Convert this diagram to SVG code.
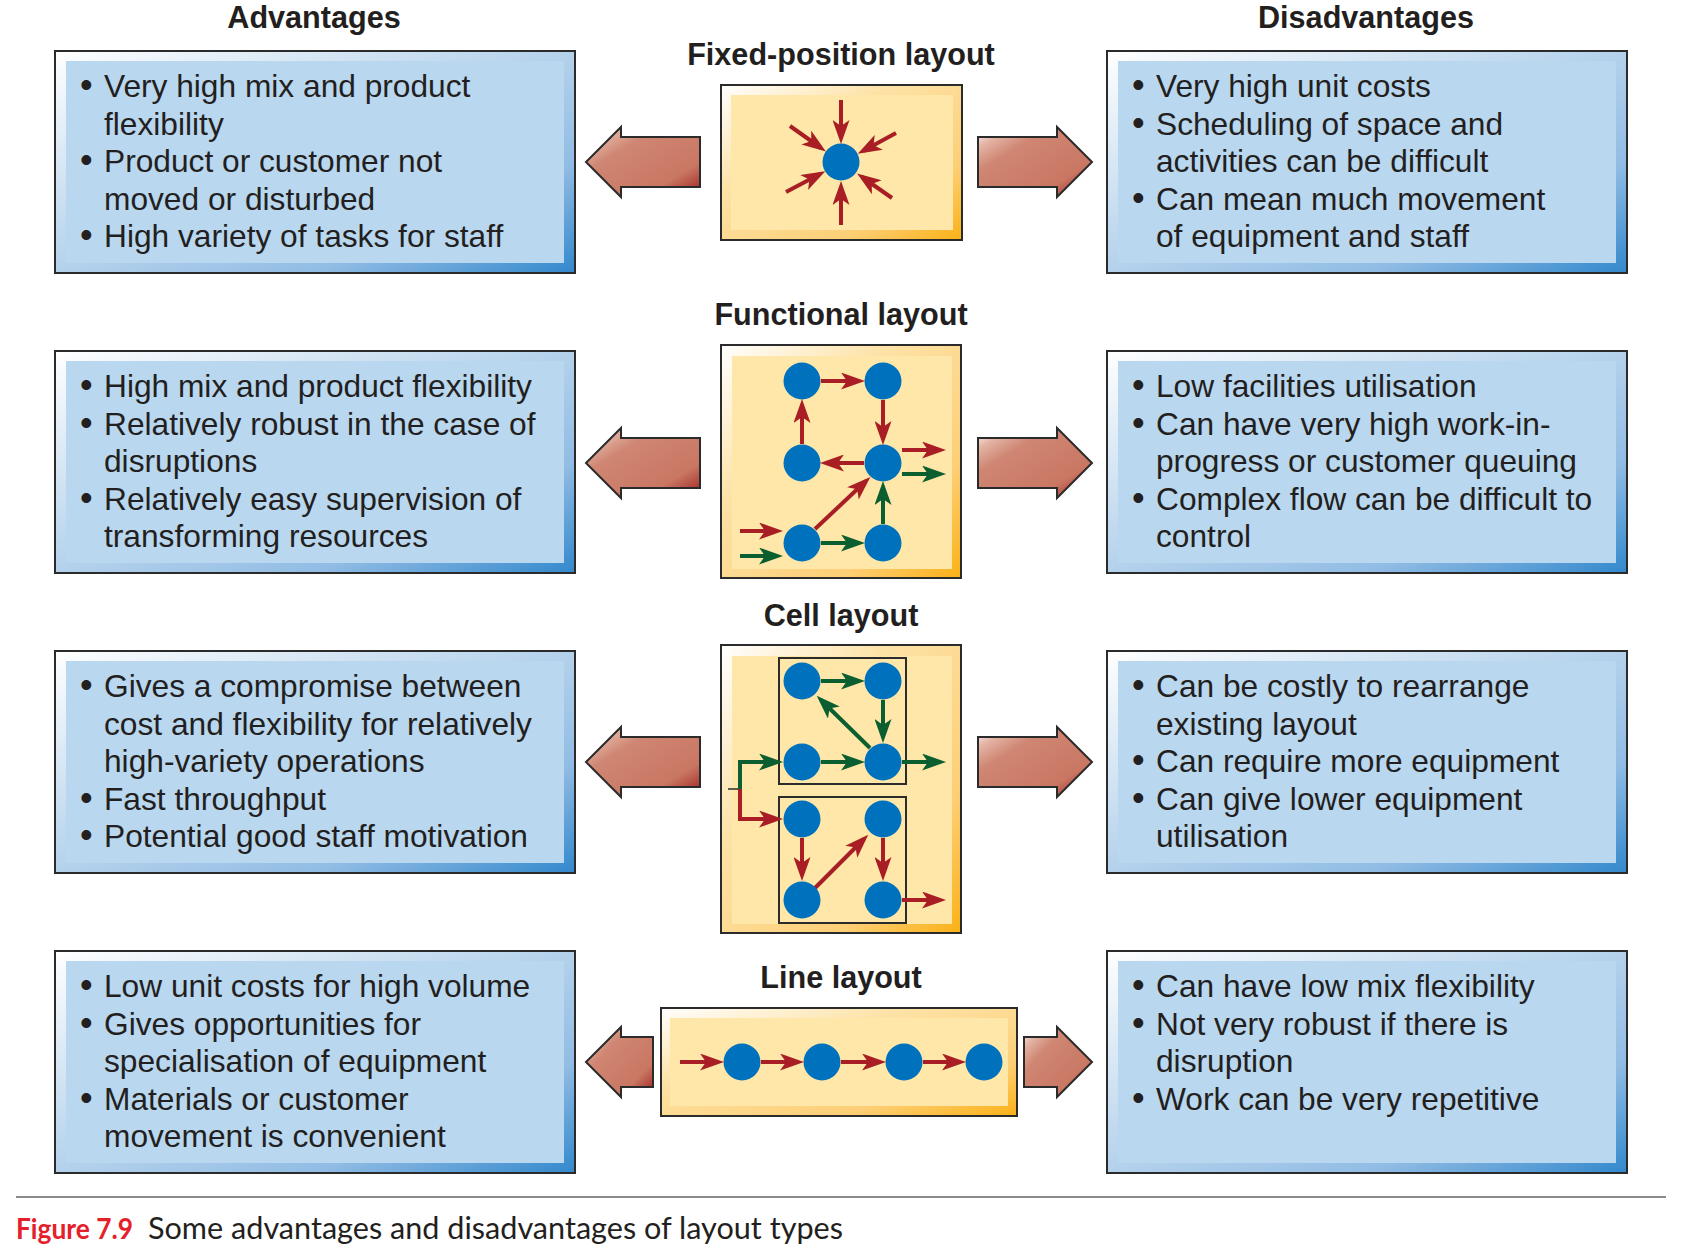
<svg xmlns="http://www.w3.org/2000/svg" width="1699" height="1259" viewBox="0 0 1699 1259">
<defs>
<linearGradient id="gBlue" x1="0" y1="0" x2="1" y2="1">
<stop offset="0" stop-color="#ffffff"/><stop offset="0.4" stop-color="#c2daef"/><stop offset="0.75" stop-color="#91bce4"/><stop offset="1" stop-color="#3288cc"/>
</linearGradient>
<linearGradient id="gYellow" x1="0" y1="0" x2="1" y2="1">
<stop offset="0" stop-color="#ffffff"/><stop offset="0.35" stop-color="#fde2a6"/><stop offset="0.75" stop-color="#fdcf76"/><stop offset="1" stop-color="#fbb116"/>
</linearGradient>
<linearGradient id="gArrow" x1="0" y1="0" x2="1" y2="1">
<stop offset="0" stop-color="#ffffff"/><stop offset="0.15" stop-color="#e3b3a4"/><stop offset="0.32" stop-color="#cf8672"/><stop offset="0.75" stop-color="#c97763"/><stop offset="1" stop-color="#9e1c1e"/>
</linearGradient>
<marker id="mr" markerUnits="userSpaceOnUse" viewBox="0 0 24 17" markerWidth="24" markerHeight="17" refX="18" refY="8.5" orient="auto">
<path d="M0,0 L24,8.5 L0,17 L6,8.5 Z" fill="#a81e24"/>
</marker>
<marker id="mg" markerUnits="userSpaceOnUse" viewBox="0 0 24 17" markerWidth="24" markerHeight="17" refX="18" refY="8.5" orient="auto">
<path d="M0,0 L24,8.5 L0,17 L6,8.5 Z" fill="#0b5e2f"/>
</marker>
</defs>
<style>
.sideOuter{fill:url(#gBlue);stroke:#2b2b2b;stroke-width:2}
.sideInner{fill:#b9d7ef}
.panOuter{fill:url(#gYellow);stroke:#2b2b2b;stroke-width:2}
.panInner{fill:#fee7a8}
.sub{fill:none;stroke:#2b2b2b;stroke-width:2}
.txt{font-family:"Liberation Sans",Arial,sans-serif;font-size:31.7px;fill:#231f20}
.b{font-size:36px}
.hdr{font-family:"Liberation Sans",Arial,sans-serif;font-size:30.6px;font-weight:bold;fill:#231f20;text-anchor:middle}
.dot{fill:#0071bc}
.r{stroke:#a81e24;stroke-width:4;fill:none;marker-end:url(#mr)}
.g{stroke:#0b5e2f;stroke-width:4;fill:none;marker-end:url(#mg)}
.blk{fill:url(#gArrow);stroke:#2b2b2b;stroke-width:2;stroke-linejoin:miter}
</style>
<rect width="1699" height="1259" fill="#ffffff"/>

<text class="hdr" x="314" y="28">Advantages</text>
<text class="hdr" x="1366" y="28">Disadvantages</text>

<!-- Left boxes -->
<g id="adv-fixed">
<rect class="sideOuter" x="55" y="51" width="520" height="222"/>
<rect class="sideInner" x="66" y="61" width="498" height="202"/>
<text class="txt" x="80" y="97"><tspan class="b">•</tspan><tspan x="104">Very high mix and product</tspan></text>
<text class="txt" x="104" y="134.6">flexibility</text>
<text class="txt" x="80" y="172.2"><tspan class="b">•</tspan><tspan x="104">Product or customer not</tspan></text>
<text class="txt" x="104" y="209.8">moved or disturbed</text>
<text class="txt" x="80" y="247.4"><tspan class="b">•</tspan><tspan x="104">High variety of tasks for staff</tspan></text>
</g>
<g id="adv-functional">
<rect class="sideOuter" x="55" y="351" width="520" height="222"/>
<rect class="sideInner" x="66" y="361" width="498" height="202"/>
<text class="txt" x="80" y="397"><tspan class="b">•</tspan><tspan x="104">High mix and product flexibility</tspan></text>
<text class="txt" x="80" y="434.6"><tspan class="b">•</tspan><tspan x="104">Relatively robust in the case of</tspan></text>
<text class="txt" x="104" y="472.2">disruptions</text>
<text class="txt" x="80" y="509.8"><tspan class="b">•</tspan><tspan x="104">Relatively easy supervision of</tspan></text>
<text class="txt" x="104" y="547.4">transforming resources</text>
</g>
<g id="adv-cell">
<rect class="sideOuter" x="55" y="651" width="520" height="222"/>
<rect class="sideInner" x="66" y="661" width="498" height="202"/>
<text class="txt" x="80" y="697"><tspan class="b">•</tspan><tspan x="104">Gives a compromise between</tspan></text>
<text class="txt" x="104" y="734.6">cost and flexibility for relatively</text>
<text class="txt" x="104" y="772.2">high-variety operations</text>
<text class="txt" x="80" y="809.8"><tspan class="b">•</tspan><tspan x="104">Fast throughput</tspan></text>
<text class="txt" x="80" y="847.4"><tspan class="b">•</tspan><tspan x="104">Potential good staff motivation</tspan></text>
</g>
<g id="adv-line">
<rect class="sideOuter" x="55" y="951" width="520" height="222"/>
<rect class="sideInner" x="66" y="961" width="498" height="202"/>
<text class="txt" x="80" y="997"><tspan class="b">•</tspan><tspan x="104">Low unit costs for high volume</tspan></text>
<text class="txt" x="80" y="1034.6"><tspan class="b">•</tspan><tspan x="104">Gives opportunities for</tspan></text>
<text class="txt" x="104" y="1072.2">specialisation of equipment</text>
<text class="txt" x="80" y="1109.8"><tspan class="b">•</tspan><tspan x="104">Materials or customer</tspan></text>
<text class="txt" x="104" y="1147.4">movement is convenient</text>
</g>

<!-- Right boxes -->
<g id="dis-fixed">
<rect class="sideOuter" x="1107" y="51" width="520" height="222"/>
<rect class="sideInner" x="1118" y="61" width="498" height="202"/>
<text class="txt" x="1132" y="97"><tspan class="b">•</tspan><tspan x="1156">Very high unit costs</tspan></text>
<text class="txt" x="1132" y="134.6"><tspan class="b">•</tspan><tspan x="1156">Scheduling of space and</tspan></text>
<text class="txt" x="1156" y="172.2">activities can be difficult</text>
<text class="txt" x="1132" y="209.8"><tspan class="b">•</tspan><tspan x="1156">Can mean much movement</tspan></text>
<text class="txt" x="1156" y="247.4">of equipment and staff</text>
</g>
<g id="dis-functional">
<rect class="sideOuter" x="1107" y="351" width="520" height="222"/>
<rect class="sideInner" x="1118" y="361" width="498" height="202"/>
<text class="txt" x="1132" y="397"><tspan class="b">•</tspan><tspan x="1156">Low facilities utilisation</tspan></text>
<text class="txt" x="1132" y="434.6"><tspan class="b">•</tspan><tspan x="1156">Can have very high work-in-</tspan></text>
<text class="txt" x="1156" y="472.2">progress or customer queuing</text>
<text class="txt" x="1132" y="509.8"><tspan class="b">•</tspan><tspan x="1156">Complex flow can be difficult to</tspan></text>
<text class="txt" x="1156" y="547.4">control</text>
</g>
<g id="dis-cell">
<rect class="sideOuter" x="1107" y="651" width="520" height="222"/>
<rect class="sideInner" x="1118" y="661" width="498" height="202"/>
<text class="txt" x="1132" y="697"><tspan class="b">•</tspan><tspan x="1156">Can be costly to rearrange</tspan></text>
<text class="txt" x="1156" y="734.6">existing layout</text>
<text class="txt" x="1132" y="772.2"><tspan class="b">•</tspan><tspan x="1156">Can require more equipment</tspan></text>
<text class="txt" x="1132" y="809.8"><tspan class="b">•</tspan><tspan x="1156">Can give lower equipment</tspan></text>
<text class="txt" x="1156" y="847.4">utilisation</text>
</g>
<g id="dis-line">
<rect class="sideOuter" x="1107" y="951" width="520" height="222"/>
<rect class="sideInner" x="1118" y="961" width="498" height="202"/>
<text class="txt" x="1132" y="997"><tspan class="b">•</tspan><tspan x="1156">Can have low mix flexibility</tspan></text>
<text class="txt" x="1132" y="1034.6"><tspan class="b">•</tspan><tspan x="1156">Not very robust if there is</tspan></text>
<text class="txt" x="1156" y="1072.2">disruption</text>
<text class="txt" x="1132" y="1109.8"><tspan class="b">•</tspan><tspan x="1156">Work can be very repetitive</tspan></text>
</g>

<!-- Center panels -->
<g id="fixed-position">
<text class="hdr" x="841" y="65">Fixed-position layout</text>
<rect class="panOuter" x="721" y="85" width="241" height="155"/>
<rect class="panInner" x="731" y="95" width="222" height="135"/>
<circle class="dot" cx="841" cy="162" r="18.5"/>
<line class="r" x1="841" y1="100" x2="841" y2="138"/>
<line class="r" x1="841" y1="225" x2="841" y2="187"/>
<line class="r" x1="790" y1="126" x2="821" y2="148"/>
<line class="r" x1="896" y1="133" x2="863" y2="151"/>
<line class="r" x1="786" y1="192" x2="820" y2="174"/>
<line class="r" x1="892" y1="198" x2="862" y2="177"/>
</g>

<g id="functional">
<text class="hdr" x="841" y="325">Functional layout</text>
<rect class="panOuter" x="721" y="345" width="240" height="233"/>
<rect class="panInner" x="732" y="356" width="220" height="213"/>
<line class="r" x1="821" y1="381" x2="859" y2="381"/>
<line class="r" x1="883" y1="400" x2="883" y2="439"/>
<line class="r" x1="864" y1="463" x2="826" y2="463"/>
<line class="r" x1="802" y1="444" x2="802" y2="405"/>
<line class="r" x1="815" y1="529" x2="866" y2="481"/>
<line class="g" x1="821" y1="543" x2="859" y2="543"/>
<line class="g" x1="883" y1="524" x2="883" y2="487"/>
<line class="r" x1="740" y1="531" x2="777" y2="531"/>
<line class="g" x1="740" y1="556" x2="777" y2="556"/>
<line class="r" x1="902" y1="450" x2="940" y2="450"/>
<line class="g" x1="902" y1="474" x2="940" y2="474"/>
<circle class="dot" cx="802" cy="381" r="18.5"/>
<circle class="dot" cx="883" cy="381" r="18.5"/>
<circle class="dot" cx="802" cy="463" r="18.5"/>
<circle class="dot" cx="883" cy="463" r="18.5"/>
<circle class="dot" cx="802" cy="543" r="18.5"/>
<circle class="dot" cx="883" cy="543" r="18.5"/>
</g>

<g id="cell">
<text class="hdr" x="841" y="626">Cell layout</text>
<rect class="panOuter" x="721" y="645" width="240" height="288"/>
<rect class="panInner" x="732" y="656" width="220" height="268"/>
<rect class="sub" x="779" y="658" width="127" height="126"/>
<rect class="sub" x="779" y="797" width="127" height="126"/>
<line x1="728" y1="789" x2="741" y2="789" stroke="#2b2b2b" stroke-width="1.5"/>
<polyline class="g" points="740,789 740,762 777,762"/>
<polyline class="r" points="740,789 740,819 777,819"/>
<line class="g" x1="821" y1="681" x2="859" y2="681"/>
<line class="g" x1="883" y1="700" x2="883" y2="737"/>
<line class="g" x1="870" y1="748" x2="821" y2="700"/>
<line class="g" x1="821" y1="762" x2="859" y2="762"/>
<line class="g" x1="902" y1="762" x2="940" y2="762"/>
<line class="r" x1="802" y1="838" x2="802" y2="875"/>
<line class="r" x1="815" y1="888" x2="864" y2="839"/>
<line class="r" x1="883" y1="838" x2="883" y2="875"/>
<line class="r" x1="902" y1="900" x2="940" y2="900"/>
<circle class="dot" cx="802" cy="681" r="18.5"/>
<circle class="dot" cx="883" cy="681" r="18.5"/>
<circle class="dot" cx="802" cy="762" r="18.5"/>
<circle class="dot" cx="883" cy="762" r="18.5"/>
<circle class="dot" cx="802" cy="819" r="18.5"/>
<circle class="dot" cx="883" cy="819" r="18.5"/>
<circle class="dot" cx="802" cy="900" r="18.5"/>
<circle class="dot" cx="883" cy="900" r="18.5"/>
</g>

<g id="line">
<text class="hdr" x="841" y="988">Line layout</text>
<rect class="panOuter" x="661" y="1008" width="356" height="108"/>
<rect class="panInner" x="670" y="1018" width="338" height="88"/>
<line class="r" x1="680" y1="1062" x2="718" y2="1062"/>
<line class="r" x1="761" y1="1062" x2="798" y2="1062"/>
<line class="r" x1="841" y1="1062" x2="880" y2="1062"/>
<line class="r" x1="923" y1="1062" x2="960" y2="1062"/>
<circle class="dot" cx="742" cy="1062" r="18.5"/>
<circle class="dot" cx="822" cy="1062" r="18.5"/>
<circle class="dot" cx="904" cy="1062" r="18.5"/>
<circle class="dot" cx="984" cy="1062" r="18.5"/>
</g>

<!-- Connectors: block arrows -->
<g id="connectors">
<path class="blk" d="M700,137 L621,137 L621,127 L586,162 L621,197 L621,187 L700,187 Z"/>
<path class="blk" d="M978,137 L1057,137 L1057,127 L1092,162 L1057,197 L1057,187 L978,187 Z"/>
<path class="blk" d="M700,438 L621,438 L621,428 L586,463 L621,498 L621,488 L700,488 Z"/>
<path class="blk" d="M978,438 L1057,438 L1057,428 L1092,463 L1057,498 L1057,488 L978,488 Z"/>
<path class="blk" d="M700,737 L621,737 L621,727 L586,762 L621,797 L621,787 L700,787 Z"/>
<path class="blk" d="M978,737 L1057,737 L1057,727 L1092,762 L1057,797 L1057,787 L978,787 Z"/>
<path class="blk" d="M653,1037 L621,1037 L621,1027 L586,1062 L621,1097 L621,1087 L653,1087 Z"/>
<path class="blk" d="M1024,1037 L1057,1037 L1057,1027 L1092,1062 L1057,1097 L1057,1087 L1024,1087 Z"/>
</g>

<!-- Caption -->
<line x1="16" y1="1197" x2="1666" y2="1197" stroke="#8a8a8a" stroke-width="2"/>
<text x="16" y="1239" font-family="Lato,'Open Sans',sans-serif" font-size="29" font-weight="bold" fill="#e4202a" textLength="117" lengthAdjust="spacingAndGlyphs">Figure 7.9</text>
<text x="148" y="1239" font-family="Lato,'Open Sans',sans-serif" font-size="30" fill="#231f20" textLength="695" lengthAdjust="spacingAndGlyphs">Some advantages and disadvantages of layout types</text>
</svg>
